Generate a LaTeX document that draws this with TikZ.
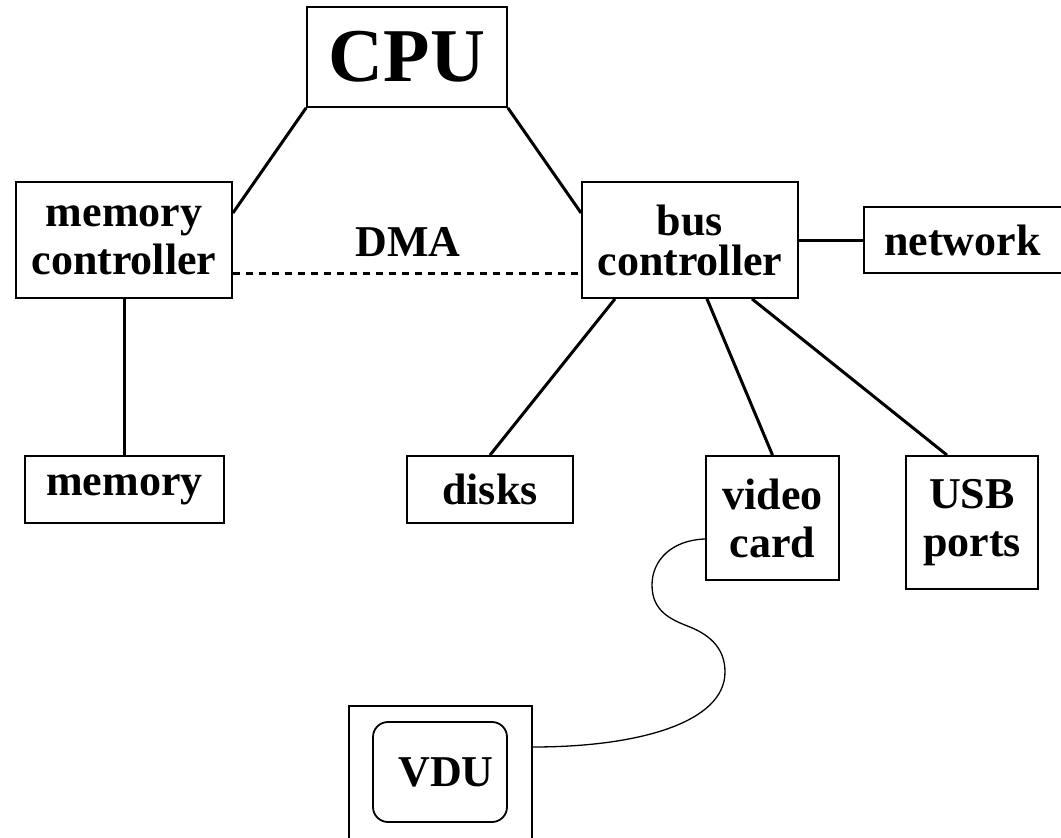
\documentclass[tikz,border=0pt]{standalone}
\usepackage{fontspec}
\setmainfont{Liberation Serif}
\begin{document}
\begin{tikzpicture}[x=1pt,y=-1pt,
  box/.style={draw,line width=1.8pt,rectangle,inner sep=0pt,align=center,
    font=\bfseries\fontsize{44}{48}\selectfont},
  conn/.style={line width=3pt},
  cable/.style={line width=1.3pt}]
\useasboundingbox (0,0) rectangle (1061,838);
\clip (0,0) rectangle (1061,838);

\node[box,minimum width=200pt,minimum height=100pt,
  font=\bfseries\fontsize{76}{80}\selectfont] (cpu) at (407,57) {CPU};
\node[box,minimum width=216pt,minimum height=116pt] (memctrl) at (124,240) {memory\\controller};
\node[box,minimum width=216pt,minimum height=116pt] (bus) at (690,240) {bus\\[-8pt]controller};
\node[box,minimum width=201pt,minimum height=66pt] (network) at (964.5,240) {\hspace*{-4pt}network};
\node[box,minimum width=199pt,minimum height=67pt] (memory) at (124.5,489.5) {\raisebox{-3pt}{memory}};
\node[box,minimum width=166pt,minimum height=67pt] (disks) at (490,489.5) {disks};
\node[box,minimum width=133pt,minimum height=124pt] (video) at (772.5,518) {video\\card};
\node[box,minimum width=132pt,minimum height=133pt] (usb) at (972,522.5) {USB\\ports};
\node[box,minimum width=183pt,minimum height=164pt] (vdu) at (440.5,788) {};
\node[box,minimum width=134pt,minimum height=100pt,rounded corners=15pt] (screen) at (440,772) {\hspace*{12pt}VDU};
\node[font=\bfseries\fontsize{44}{48}\selectfont,anchor=base,inner sep=0pt] (dma) at (408,256) {DMA};

\draw[conn] (cpu.south west) -- ([yshift=27pt]memctrl.east);
\draw[conn] (cpu.south east) -- ([yshift=27pt]bus.west);
\draw[conn,dash pattern=on 7pt off 6pt] ([yshift=-33pt]memctrl.east) -- ([yshift=-33pt]bus.west);
\draw[conn] (bus.east) -- (network.west);
\draw[conn] (memctrl.south) -- (memctrl.south |- memory.north);
\draw[conn] ([xshift=-75pt]bus.south) -- (disks.north);
\draw[conn] ([xshift=17pt]bus.south) -- (video.north);
\draw[conn] ([xshift=62pt]bus.south) -- ([xshift=-25pt]usb.north);
\draw[cable] ([yshift=-21pt]video.west)
  .. controls (672,540) and (652,560) .. (652,585)
  .. controls (652,612) and (672,620) .. (690,627)
  .. controls (712,636) and (725,650) .. (725,672)
  .. controls (725,722) and (640,747) .. ([yshift=41pt]vdu.east);
\end{tikzpicture}
\end{document}
